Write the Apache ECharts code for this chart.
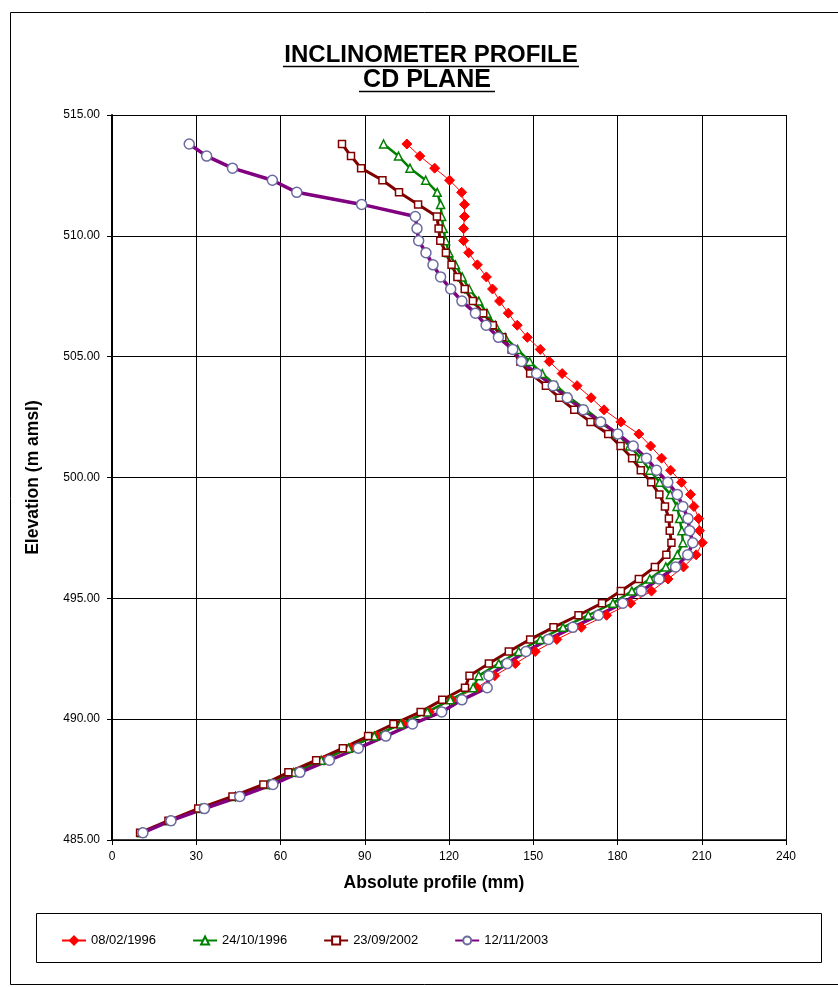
<!DOCTYPE html>
<html>
<head>
<meta charset="utf-8">
<script src="https://cdn.jsdelivr.net/npm/echarts@6/dist/echarts.min.js"></script>
<style>
    html, body {margin:0;padding:0;background:#fff;}
    #main {width:838px;height:987px;}
</style>
</head>
<body>
<div id="main"></div>
<script>
    // elevation of each reading (m amsl), top to bottom
    var elevations = [513.8, 513.3, 512.8, 512.3, 511.8, 511.3, 510.8, 510.3, 509.8, 509.3,
        508.8, 508.3, 507.8, 507.3, 506.8, 506.3, 505.8, 505.3, 504.8, 504.3,
        503.8, 503.3, 502.8, 502.3, 501.8, 501.3, 500.8, 500.3, 499.8, 499.3,
        498.8, 498.3, 497.8, 497.3, 496.8, 496.3, 495.8, 495.3, 494.8, 494.3,
        493.8, 493.3, 492.8, 492.3, 491.8, 491.3, 490.8, 490.3, 489.8, 489.3,
        488.8, 488.3, 487.8, 487.3, 486.8, 486.3, 485.8, 485.3];

    var seriesNames = ['08/02/1996', '24/10/1996', '23/09/2002', '12/11/2003'];

    // absolute profile (mm) for each survey
    var profile1996a = [105, 109.6, 114.9, 120.2, 124.5, 125.5, 125.5, 125.2, 125.2, 127,
        130.1, 133.3, 135.5, 138, 141.1, 144.3, 147.9, 152.5, 155.7, 160.3,
        165.6, 170.6, 175.2, 181.2, 187.6, 191.8, 195.7, 198.9, 202.8, 206,
        207.2, 208.9, 209.2, 210.2, 208, 203.5, 198, 192.1, 184.7, 176.1,
        167.1, 158.4, 150.7, 143.6, 136.3, 130, 121, 113, 103.5, 94,
        85, 75.5, 65.5, 56, 44, 32, 21, 10.5];
    var profile1996b = [96.7, 102, 106.1, 111.7, 115.8, 117, 117.4, 118, 118.8, 120,
        122.3, 124.7, 127.2, 130.6, 133.5, 136.5, 140, 144.4, 148.7, 153.2,
        158.2, 163, 168.8, 174.4, 179.9, 184.3, 188.3, 191.5, 195, 198.8,
        201.2, 202.1, 202.9, 203.3, 201.3, 197.2, 191.5, 185.1, 178.4, 169.6,
        160.6, 152.5, 144.8, 137.7, 130.6, 128.6, 120.5, 112.3, 102.8, 93.4,
        84.2, 74.5, 64.7, 55.6, 44, 31.6, 20.5, 10.5];
    var profile2002 = [81.9, 85.1, 88.7, 96.3, 102.2, 109, 115.7, 116.3, 116.9, 118.9,
        120.9, 123, 125.6, 128.5, 132.2, 135.6, 139, 142.3, 145.4, 148.9,
        154.5, 159.3, 164.6, 170.4, 176.7, 181.1, 185.2, 188.3, 192, 194.9,
        196.9, 198.3, 198.6, 199.2, 197.4, 193.3, 187.6, 181.2, 174.5, 166.1,
        157.2, 148.9, 141.3, 134.2, 127.3, 125.7, 117.6, 109.9, 100.2, 91.2,
        82.2, 72.7, 62.8, 53.9, 42.9, 30.7, 20.1, 10];
    var profile2003 = [27.5, 33.7, 42.9, 57.1, 65.8, 88.9, 108, 108.6, 109.2, 111.8,
        114.3, 117, 120.6, 124.6, 129.4, 133.2, 137.6, 142.7, 145.8, 151.2,
        157.1, 162.1, 167.8, 174, 180.1, 185.6, 190.3, 193.9, 197.9, 201.3,
        203.3, 205.1, 205.7, 206.8, 205, 200.7, 194.8, 188.5, 181.9, 173.2,
        164.1, 155.4, 147.4, 140.7, 134.2, 133.6, 124.6, 117.4, 107, 97.5,
        87.7, 77.4, 66.9, 57.3, 45.5, 32.9, 21, 11];

    var chartFont = '"Liberation Sans", Arial, sans-serif';

    function pairs(values) {
        var out = [];
        for (var i = 0; i < values.length; i++) {
            out.push([values[i], elevations[i]]);
        }
        return out;
    }

    var myChart = echarts.init(document.getElementById('main'));

    var option = {
        animation: false,
        backgroundColor: '#ffffff',
        textStyle: {fontFamily: chartFont},
        grid: {left: 112, top: 115, width: 674, height: 725},
        graphic: [
            // outer frame
            {type: 'rect', z: 0,
                shape: {x: 10.5, y: 12.5, width: 840, height: 972},
                style: {fill: null, stroke: '#000', lineWidth: 1}},
            // legend frame
            {type: 'rect', z: 0,
                shape: {x: 36.5, y: 913.5, width: 785, height: 49},
                style: {fill: null, stroke: '#000', lineWidth: 1}},
            // title lines + underline
            {type: 'text', x: 431, y: 55, z: 10,
                style: {text: 'INCLINOMETER PROFILE', font: 'bold 24px ' + chartFont,
                    fill: '#000', textAlign: 'center', textVerticalAlign: 'middle'}},
            {type: 'line', z: 10, shape: {x1: 283, y1: 66.5, x2: 579, y2: 66.5},
                style: {stroke: '#000', lineWidth: 1.5}},
            {type: 'text', x: 427, y: 80, z: 10,
                style: {text: 'CD PLANE', font: 'bold 25px ' + chartFont,
                    fill: '#000', textAlign: 'center', textVerticalAlign: 'middle'}},
            {type: 'line', z: 10, shape: {x1: 359, y1: 91.5, x2: 495, y2: 91.5},
                style: {stroke: '#000', lineWidth: 1.5}},
            // x axis title (sits a little left of the plot centre in the original)
            {type: 'text', x: 434, y: 883, z: 10,
                style: {text: 'Absolute profile (mm)', font: 'bold 17.5px ' + chartFont,
                    fill: '#000', textAlign: 'center', textVerticalAlign: 'middle'}}
        ],
        legend: {
            data: seriesNames,
            left: 56,
            top: 929,
            itemGap: 36,
            itemWidth: 24,
            itemHeight: 10,
            textStyle: {fontSize: 13, color: '#000', fontFamily: chartFont}
        },
        xAxis: {
            type: 'value',
            min: 0,
            max: 240,
            interval: 30,
            axisLine: {show: true, lineStyle: {color: '#000', width: 1.5}},
            axisTick: {show: true, length: 5, lineStyle: {color: '#000'}},
            axisLabel: {fontSize: 12, color: '#000', margin: 11},
            splitLine: {show: true, lineStyle: {color: '#000', width: 1}}
        },
        yAxis: {
            type: 'value',
            min: 485,
            max: 515,
            interval: 5,
            name: 'Elevation (m amsl)',
            nameLocation: 'middle',
            nameGap: 70,
            nameTextStyle: {fontSize: 17.5, fontWeight: 'bold', color: '#000'},
            axisLine: {show: true, lineStyle: {color: '#000', width: 2}},
            axisTick: {show: true, length: 5, lineStyle: {color: '#000'}},
            axisLabel: {fontSize: 12, color: '#000', margin: 12,
                formatter: function (v) { return v.toFixed(2); }},
            splitLine: {show: true, lineStyle: {color: '#000', width: 1}}
        },
        series: [
            {
                name: seriesNames[0],
                type: 'line',
                data: pairs(profile1996a),
                symbol: 'diamond',
                symbolSize: 10,
                lineStyle: {color: '#ff0000', width: 1},
                itemStyle: {color: '#ff0000', borderColor: '#ff0000', borderWidth: 1}
            },
            {
                name: seriesNames[1],
                type: 'line',
                data: pairs(profile1996b),
                symbol: 'triangle',
                symbolSize: 8,
                lineStyle: {color: '#008000', width: 2.5},
                itemStyle: {color: '#ffffff', borderColor: '#008000', borderWidth: 1.5}
            },
            {
                name: seriesNames[2],
                type: 'line',
                data: pairs(profile2002),
                symbol: 'rect',
                symbolSize: 7,
                lineStyle: {color: '#800000', width: 3},
                itemStyle: {color: '#ffffff', borderColor: '#800000', borderWidth: 1.5}
            },
            {
                name: seriesNames[3],
                type: 'line',
                data: pairs(profile2003),
                symbol: 'circle',
                symbolSize: 10,
                lineStyle: {color: '#800080', width: 3.5},
                itemStyle: {color: '#ffffff', borderColor: '#6a6aa0', borderWidth: 1.5}
            }
        ]
    };

    myChart.setOption(option);
</script>
</body>
</html>
